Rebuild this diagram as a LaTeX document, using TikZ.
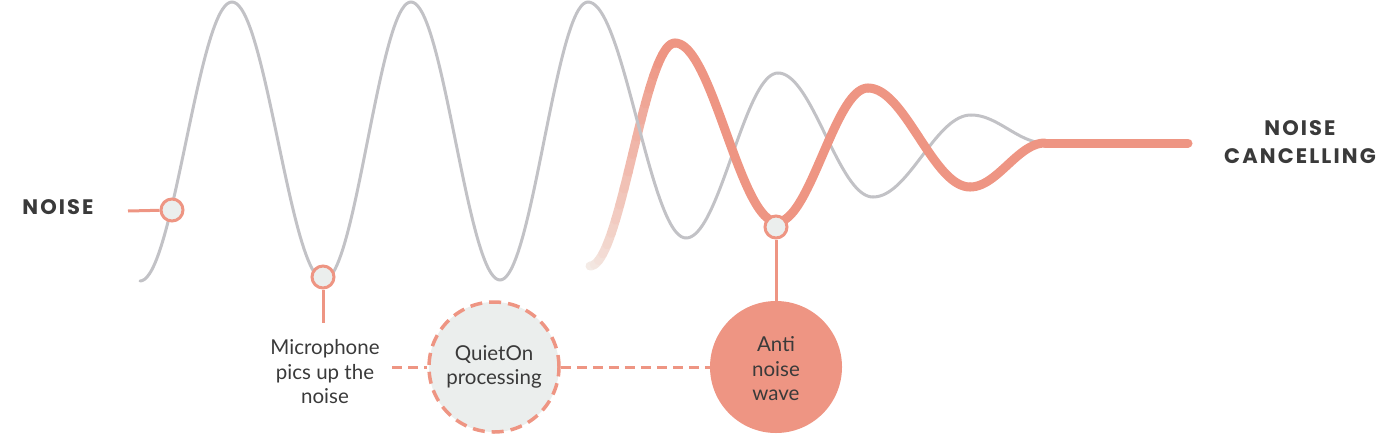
\documentclass[tikz,border=0pt]{standalone}
\usepackage{fontspec}
\setmainfont{Lato}
\newfontfamily\lblfont{Poppins}[LetterSpace=10]
\definecolor{oc}{HTML}{EE9583}
\definecolor{gw}{HTML}{C2C2C6}
\definecolor{cf}{HTML}{EBEEED}
\definecolor{tc}{HTML}{3A3A3A}
\definecolor{fadeC}{HTML}{F4EEE9}
\newcommand\halfwave[5]{%
  \draw[#1] plot[domain=0:1,samples=40,smooth] ({#2+(#4-#2)*\x},{#3+(#5-#3)*(1-cos(180*\x))/2});}
\begin{document}
\begin{tikzpicture}[x=1pt,y=-1pt,
  wave/.style={draw=gw,line width=3pt,line cap=round,line join=round},
  owave/.style={draw=oc,line width=9pt,line cap=round,line join=round},
  pin/.style={circle,draw=oc,fill=cf,line width=3pt,minimum size=22pt,inner sep=0pt},
  link/.style={draw=oc,line width=3pt},
  dlink/.style={draw=oc,line width=3pt,dash pattern=on 10pt off 6pt},
  body/.style={font=\fontsize{20.5}{24.5}\selectfont,text=tc,align=center},
  lbl/.style={font=\lblfont\bfseries\fontsize{21}{28}\selectfont,text=tc,align=center}]
\useasboundingbox (0,0) rectangle (1396,434);

% faded start of anti-noise wave
\foreach \i in {0,...,19}{
  \pgfmathtruncatemacro\pa{min(100,3+\i*6)}
  \pgfmathsetmacro\ta{\i/20}
  \pgfmathsetmacro\tb{(\i+1)/20}
  \draw[draw=oc!\pa!fadeC,line width=9pt,line cap=round]
    plot[domain=\ta:\tb,samples=4,smooth] ({590+85*\x},{266-223*(1-cos(180*\x))/2});
}

% noise wave (grey)
\halfwave{wave}{140}{281}{232}{2}
\halfwave{wave}{232}{2}{324}{280}
\halfwave{wave}{324}{280}{411}{2}
\halfwave{wave}{411}{2}{500}{280}
\halfwave{wave}{500}{280}{588}{2}
\halfwave{wave}{588}{2}{686}{238}
\halfwave{wave}{686}{238}{778}{73}
\halfwave{wave}{778}{73}{873}{197}
\halfwave{wave}{873}{197}{971}{115}
\halfwave{wave}{971}{115}{1045}{143}

% anti-noise wave (orange)
\halfwave{owave}{675}{43}{777}{222}
\halfwave{owave}{777}{222}{868}{88}
\halfwave{owave}{868}{88}{970}{187}
\halfwave{owave}{970}{187}{1045}{143}
\coordinate (flatA) at (1045,143);
\coordinate (flatB) at (1188,143);
\draw[owave] (flatA) -- (flatB);

% labels
\node[lbl] (noise) at (58,207) {NOISE};
\node[lbl] (nc) at (1300,142) {NOISE\\CANCELLING};

% circles
\node[circle,fill=cf,draw=oc,line width=3.5pt,dash pattern=on 12pt off 7pt,minimum size=130pt,inner sep=0pt] (qo) at (494,367) {};
\node[body] at (qo) {QuietOn\\processing};
\node[circle,fill=oc,minimum size=132pt,inner sep=0pt] (anti) at (776,367) {};
\node[body] at (776,369) {Anti\\noise\\wave};
\node[body] (mic) at (325,372) {Microphone\\pics up the\\noise};

% pins
\node[pin] (p1) at (172,210) {};
\node[pin] (p2) at (323,277) {};
\node[pin] (p3) at (776,227) {};

% connectors
\coordinate (noiseend) at (128,211);
\coordinate (micend) at (323,323);
\coordinate (dstart) at (392,367);
\draw[link] (noiseend) -- (p1);
\draw[link] (p2) -- (micend);
\draw[link] (p3) -- (anti);
\draw[dlink] (dstart) -- (qo);
\draw[dlink] (qo) -- (anti);
\end{tikzpicture}
\end{document}
